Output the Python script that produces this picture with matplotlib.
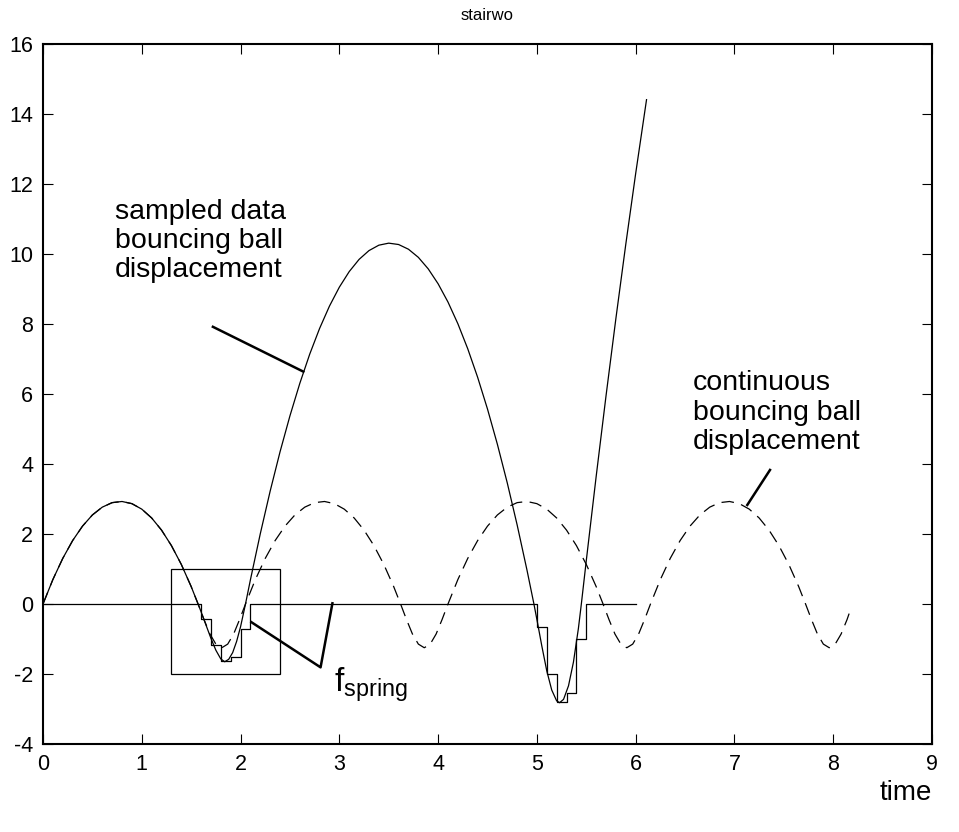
import matplotlib
matplotlib.use("Agg")
import matplotlib.pyplot as plt
from matplotlib.patches import Rectangle

plt.rcParams['font.family'] = ['Liberation Sans', 'DejaVu Sans']
plt.rcParams['mathtext.fontset'] = 'custom'
plt.rcParams['mathtext.rm'] = 'Liberation Sans'
plt.rcParams['mathtext.it'] = 'Liberation Sans'
plt.rcParams['axes.unicode_minus'] = False

# sampled data bouncing ball displacement (solid)
samp_t = [0, 0.1, 0.2, 0.3, 0.4, 0.5, 0.6, 0.7, 0.8, 0.9, 1.0, 1.1, 1.2, 1.3, 1.4, 1.5, 1.57,
          1.60, 1.65, 1.70, 1.75, 1.80, 1.84, 1.88, 1.92, 1.96, 2.00, 2.05,
          2.1, 2.2, 2.3, 2.4, 2.5, 2.6, 2.7, 2.8, 2.9, 3.0, 3.1, 3.2, 3.3, 3.4, 3.5,
          3.6, 3.7, 3.8, 3.9, 4.0, 4.1, 4.2, 4.3, 4.4, 4.5, 4.6, 4.7, 4.8, 4.9, 4.97,
          5.00, 5.05, 5.10, 5.15, 5.20, 5.23, 5.27, 5.32, 5.37, 5.42, 5.45,
          5.5, 5.6, 5.7, 5.8, 5.9, 6.0, 6.11]
samp_y = [0, 0.699, 1.303, 1.812, 2.225, 2.544, 2.767, 2.896, 2.929, 2.867, 2.710, 2.458, 2.111, 1.669, 1.132, 0.499, 0,
          -0.22, -0.60, -0.98, -1.32, -1.57, -1.65, -1.58, -1.39, -1.07, -0.65, 0,
          0.694, 2.010, 3.229, 4.351, 5.376, 6.305, 7.137, 7.872, 8.511, 9.052, 9.497, 9.846, 10.097, 10.252, 10.310,
          10.271, 10.136, 9.904, 9.575, 9.149, 8.627, 8.008, 7.292, 6.479, 5.570, 4.564, 3.461, 2.261, 0.965, 0,
          -0.441, -1.201, -1.909, -2.456, -2.767, -2.82, -2.724, -2.338, -1.661, -0.703, 0,
          1.238, 3.642, 5.95, 8.162, 10.278, 12.298, 14.41]

# continuous bouncing ball displacement (dashed)
cont_t = [0, 0.1, 0.2, 0.3, 0.4, 0.5, 0.6, 0.7, 0.8, 0.9, 1.0, 1.1, 1.2, 1.3, 1.4, 1.5, 1.57,
          1.63, 1.69, 1.75, 1.81, 1.87, 1.93, 1.99, 2.05,
          2.15, 2.25, 2.35, 2.45, 2.55, 2.65, 2.75, 2.85, 2.95, 3.05, 3.15, 3.25, 3.35, 3.45, 3.55, 3.62,
          3.68, 3.74, 3.80, 3.86, 3.92, 3.98, 4.04, 4.10,
          4.20, 4.30, 4.40, 4.50, 4.60, 4.70, 4.80, 4.90, 5.00, 5.10, 5.20, 5.30, 5.40, 5.50, 5.60, 5.67,
          5.73, 5.79, 5.85, 5.91, 5.97, 6.03, 6.09, 6.15,
          6.25, 6.35, 6.45, 6.55, 6.65, 6.75, 6.85, 6.95, 7.05, 7.15, 7.25, 7.35, 7.45, 7.55, 7.65, 7.72,
          7.78, 7.84, 7.90, 7.96, 8.02, 8.08, 8.14, 8.17]
cont_y = [0, 0.699, 1.303, 1.812, 2.225, 2.544, 2.767, 2.896, 2.929, 2.867, 2.710, 2.458, 2.111, 1.669, 1.132, 0.499, 0,
          -0.445, -0.857, -1.146, -1.25, -1.146, -0.857, -0.445, 0,
          0.699, 1.303, 1.812, 2.225, 2.544, 2.767, 2.896, 2.929, 2.867, 2.710, 2.458, 2.111, 1.669, 1.132, 0.499, 0,
          -0.445, -0.857, -1.146, -1.25, -1.146, -0.857, -0.445, 0,
          0.699, 1.303, 1.812, 2.225, 2.544, 2.767, 2.896, 2.929, 2.867, 2.710, 2.458, 2.111, 1.669, 1.132, 0.499, 0,
          -0.445, -0.857, -1.146, -1.25, -1.146, -0.857, -0.445, 0,
          0.699, 1.303, 1.812, 2.225, 2.544, 2.767, 2.896, 2.929, 2.867, 2.710, 2.458, 2.111, 1.669, 1.132, 0.499, 0,
          -0.445, -0.857, -1.146, -1.25, -1.146, -0.857, -0.445, -0.2]

# f_spring staircase (zero order hold)
stair_t = [0, 1.6, 1.7, 1.8, 1.9, 2.0, 2.1, 5.0, 5.1, 5.2, 5.3, 5.4, 5.5, 6.0]
stair_y = [0, -0.43, -1.17, -1.62, -1.52, -0.71, 0, -0.65, -2.0, -2.81, -2.53, -1.0, 0, 0]

fig = plt.figure(figsize=(9.59, 8.32), dpi=100)
ax = fig.add_axes([43 / 959, 88 / 832, 889 / 959, 700 / 832])

ax.plot(samp_t, samp_y, color='black', lw=0.9)
ax.plot(cont_t, cont_y, color='black', lw=0.9, dashes=(10, 6))
ax.step(stair_t, stair_y, where='post', color='black', lw=0.9)

# zoom box around the first bounce
ax.add_patch(Rectangle((1.3, -2), 1.1, 3, fill=False, edgecolor='black', lw=0.9))

# annotations
ax.text(0.73, 10.37, 'sampled data\nbouncing ball\ndisplacement', fontsize=20.5,
        ha='left', va='center', linespacing=1.17)
ax.plot([1.72, 2.635], [7.92, 6.64], color='black', lw=1.8)

ax.text(6.58, 5.46, 'continuous\nbouncing ball\ndisplacement', fontsize=20.5,
        ha='left', va='center', linespacing=1.17)
ax.plot([7.36, 7.13], [3.83, 2.83], color='black', lw=1.8)

ax.plot([2.11, 2.81, 2.93], [-0.52, -1.81, 0.02], color='black', lw=1.8)
ax.text(2.95, -2.3, r'f$_{\mathrm{spring}}$', fontsize=24, ha='left', va='center')

ax.set_xlim(0, 9)
ax.set_ylim(-4, 16)
ax.set_xticks(range(0, 10))
ax.set_yticks(range(-4, 17, 2))
ax.tick_params(direction='in', length=7, width=0.8, top=True, right=True,
               labelsize=15.5, pad=7)
for s in ax.spines.values():
    s.set_linewidth(1.5)

ax.set_title('stairwo', fontsize=12, pad=17)
ax.set_xlabel('time', fontsize=20, loc='right', labelpad=4)

fig.savefig('out.png', dpi=100)
